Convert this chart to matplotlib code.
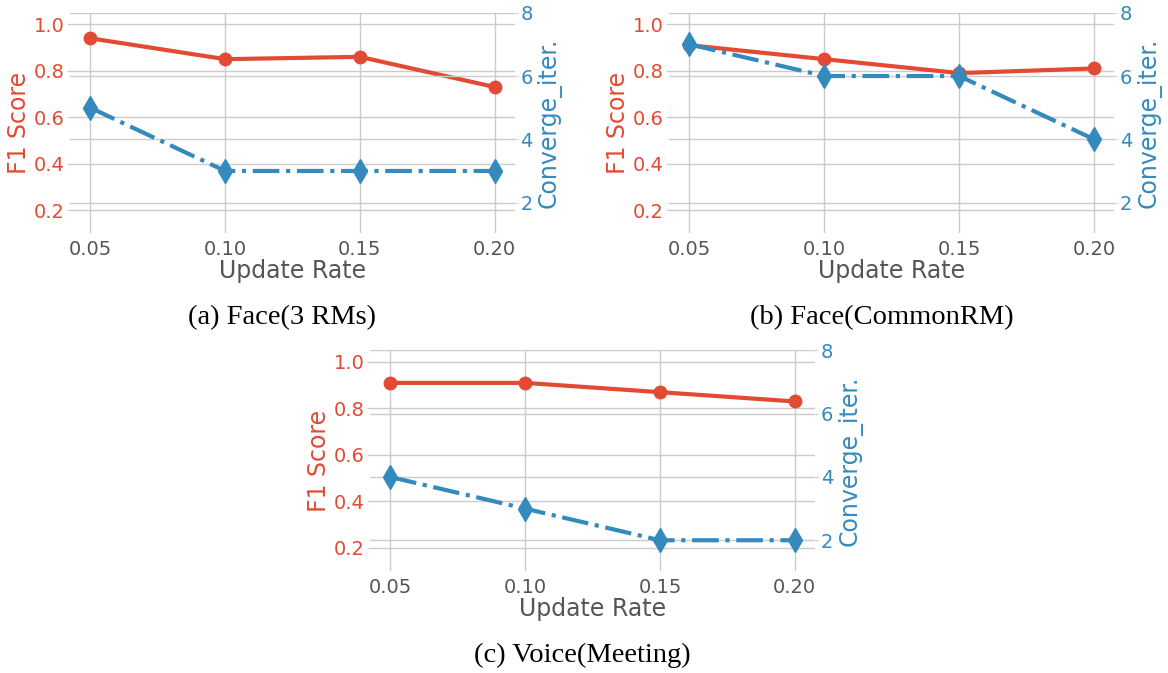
import matplotlib
matplotlib.use("Agg")
import matplotlib.pyplot as plt

rates = [0.05, 0.10, 0.15, 0.20]
rate_labels = ["0.05", "0.10", "0.15", "0.20"]

f1_face3 = [0.94, 0.85, 0.86, 0.73]
iter_face3 = [5, 3, 3, 3]
f1_common = [0.91, 0.85, 0.79, 0.81]
iter_common = [7, 6, 6, 4]
f1_voice = [0.91, 0.91, 0.87, 0.83]
iter_voice = [4, 3, 2, 2]

captions = ["(a) Face(3 RMs)", "(b) Face(CommonRM)", "(c) Voice(Meeting)"]

red = "#E24A33"
blue = "#348ABD"
grid_c = "#cbcbcb"
dark = "#555555"

fig = plt.figure(figsize=(11.68, 6.73), dpi=100)

# axes boxes in figure fractions, caption y in figure fractions
boxes = [
    [0.0599, 0.6533, 0.3810, 0.3278],
    [0.5730, 0.6533, 0.3810, 0.3278],
    [0.3168, 0.1516, 0.3810, 0.3278],
]
cap_y = [1 - 318 / 673, 1 - 318 / 673, 1 - 655 / 673]
panels = [(f1_face3, iter_face3), (f1_common, iter_common), (f1_voice, iter_voice)]


def style(ax, col):
    for s in ax.spines.values():
        s.set_visible(False)
    ax.tick_params(axis="y", labelcolor=col, color=grid_c, labelsize=14,
                   length=2, width=0.8, pad=2)


for box, (f1, it), cap, cy in zip(boxes, panels, captions, cap_y):
    ax = fig.add_axes(box)
    ax.set_facecolor("white")
    ax.grid(True, color=grid_c, linewidth=1)
    ax.set_axisbelow(True)
    ax.plot(rates, f1, color=red, linewidth=3, marker="o", markersize=9, zorder=3)
    ax.set_ylim(0.1, 1.05)
    ax.set_yticks([0.2, 0.4, 0.6, 0.8, 1.0])
    ax.set_ylabel("F1 Score", color=red, fontsize=17, labelpad=2)
    ax.set_xticks(rates)
    ax.set_xticklabels(rate_labels)
    ax.tick_params(axis="x", colors=dark, labelsize=14, length=0, pad=5)
    ax.set_xlabel("Update Rate", color=dark, fontsize=17, labelpad=0)
    style(ax, red)

    ax2 = ax.twinx()
    ax2.grid(True, axis="y", color=grid_c, linewidth=1)
    ax2.set_axisbelow(True)
    ax2.plot(rates, it, color=blue, linewidth=3, linestyle="-.", marker="d",
             markersize=12, zorder=3)
    ax2.set_ylim(1.03, 8)
    ax2.set_yticks([2, 4, 6, 8])
    ax2.set_ylabel("Converge_iter.", color=blue, fontsize=17, labelpad=3)
    style(ax2, blue)

    cx = box[0] + box[2] / 2 - 10 / 1168
    fig.text(cx, cy, cap, ha="center", va="center",
             fontsize=20.5, family="Liberation Serif")

fig.savefig("out.png", dpi=100)
